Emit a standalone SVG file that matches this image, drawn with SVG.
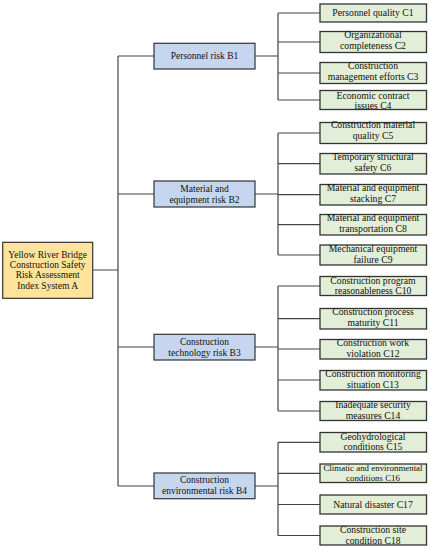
<svg xmlns="http://www.w3.org/2000/svg" width="430" height="550" viewBox="0 0 430 550">
<style>
text{font-family:"Liberation Serif","Times New Roman",serif;fill:#111;text-anchor:middle}
.c text{font-size:9.7px}
.b text{font-size:9.5px}
.a text{font-size:9.5px}
.a rect{fill:#fee39b;stroke:#333;stroke-width:1.2}
.b rect{fill:#c5d6ee;stroke:#333;stroke-width:1.2}
.c rect{fill:#e2eed7;stroke:#333;stroke-width:1.3}
#connectors path{fill:none;stroke:#444;stroke-width:1.2}
</style>
<rect width="430" height="550" fill="#fff"/>
<g id="connectors">
<path d="M93 270H118M118 56V486M118 56H154M118 194H154M118 347H154M118 486H154"/>
<path d="M255 56H278M278 13V100M278 13H320M278 42H320M278 73H320M278 100H320"/>
<path d="M255 194H278M278 133V255M278 133H320M278 163.7H320M278 194.7H320M278 224.7H320M278 255H320"/>
<path d="M255 347H278M278 286V411M278 286H320M278 318.7H320M278 349H320M278 380H320M278 411H320"/>
<path d="M255 486H278M278 442.3V535.5M278 442.3H320M278 473.3H320M278 504.5H320M278 535.5H320"/>
</g>
<g id="A" class="a">
<rect x="2.7" y="242.3" width="90" height="56"/>
<text x="47.7" y="257.6">Yellow River Bridge</text>
<text x="47.7" y="268">Construction Safety</text>
<text x="47.7" y="278.3">Risk Assessment</text>
<text x="47.7" y="288.6">Index System A</text>
</g>
<g id="B1" class="b"><rect x="154" y="43.3" width="101" height="25.7"/><text x="204.5" y="59.3">Personnel risk B1</text></g>
<g id="B2" class="b"><rect x="154" y="181" width="101" height="26"/><text x="204.5" y="191.6">Material and</text><text x="204.5" y="202.6">equipment risk B2</text></g>
<g id="B3" class="b"><rect x="154" y="334.3" width="101" height="25.7"/><text x="204.5" y="344.6">Construction</text><text x="204.5" y="355.6">technology risk B3</text></g>
<g id="B4" class="b"><rect x="154" y="473" width="101" height="25.7"/><text x="204.5" y="483.3">Construction</text><text x="204.5" y="494.3">environmental risk B4</text></g>
<g id="C1" class="c"><rect x="320" y="4" width="106.5" height="18"/><text x="373" y="16.3">Personnel quality C1</text></g>
<g id="C2" class="c"><rect x="320" y="31.5" width="106.5" height="21"/><text x="373" y="38.2">Organizational</text><text x="373" y="49">completeness C2</text></g>
<g id="C3" class="c"><rect x="320" y="62.5" width="106.5" height="21"/><text x="373" y="69.2">Construction</text><text x="373" y="80">management efforts C3</text></g>
<g id="C4" class="c"><rect x="320" y="90.5" width="106.5" height="19"/><text x="373" y="98.6">Economic contract</text><text x="373" y="108.6">issues C4</text></g>
<g id="C5" class="c"><rect x="320" y="122.5" width="106.5" height="21"/><text x="373" y="128.4">Construction material</text><text x="373" y="139">quality C5</text></g>
<g id="C6" class="c"><rect x="320" y="153.5" width="106.5" height="20.5"/><text x="373" y="160">Temporary structural</text><text x="373" y="170.8">safety C6</text></g>
<g id="C7" class="c"><rect x="320" y="184.5" width="106.5" height="20.5"/><text x="373" y="191">Material and equipment</text><text x="373" y="201.8">stacking C7</text></g>
<g id="C8" class="c"><rect x="320" y="214.5" width="106.5" height="20.5"/><text x="373" y="221">Material and equipment</text><text x="373" y="231.8">transportation C8</text></g>
<g id="C9" class="c"><rect x="320" y="245" width="106.5" height="20"/><text x="373" y="252.3">Mechanical equipment</text><text x="373" y="263">failure C9</text></g>
<g id="C10" class="c"><rect x="320" y="276.5" width="106.5" height="19"/><text x="373" y="283.5">Construction program</text><text x="373" y="294">reasonableness C10</text></g>
<g id="C11" class="c"><rect x="320" y="308.5" width="106.5" height="20.5"/><text x="373" y="315">Construction process</text><text x="373" y="325.8">maturity C11</text></g>
<g id="C12" class="c"><rect x="320" y="339.5" width="106.5" height="19.5"/><text x="373" y="346.3">Construction work</text><text x="373" y="357.2">violation C12</text></g>
<g id="C13" class="c"><rect x="320" y="370.5" width="106.5" height="19.5"/><text x="373" y="377.3">Construction monitoring</text><text x="373" y="388.2">situation C13</text></g>
<g id="C14" class="c"><rect x="320" y="401.5" width="106.5" height="19"/><text x="373" y="408.2">Inadequate security</text><text x="373" y="419">measures C14</text></g>
<g id="C15" class="c"><rect x="320" y="432.5" width="106.5" height="19.5"/><text x="373" y="439.5">Geohydrological</text><text x="373" y="450.2">conditions C15</text></g>
<g id="C16" class="c"><rect x="320" y="464" width="106.5" height="18.5"/><text x="373" y="471" style="font-size:8.9px">Climatic and environmental</text><text x="373" y="481" style="font-size:8.9px">conditions C16</text></g>
<g id="C17" class="c"><rect x="320" y="495" width="106.5" height="19"/><text x="373" y="507.8">Natural disaster C17</text></g>
<g id="C18" class="c"><rect x="320" y="526" width="106.5" height="19"/><text x="373" y="533">Construction site</text><text x="373" y="543.7">condition C18</text></g>
</svg>
